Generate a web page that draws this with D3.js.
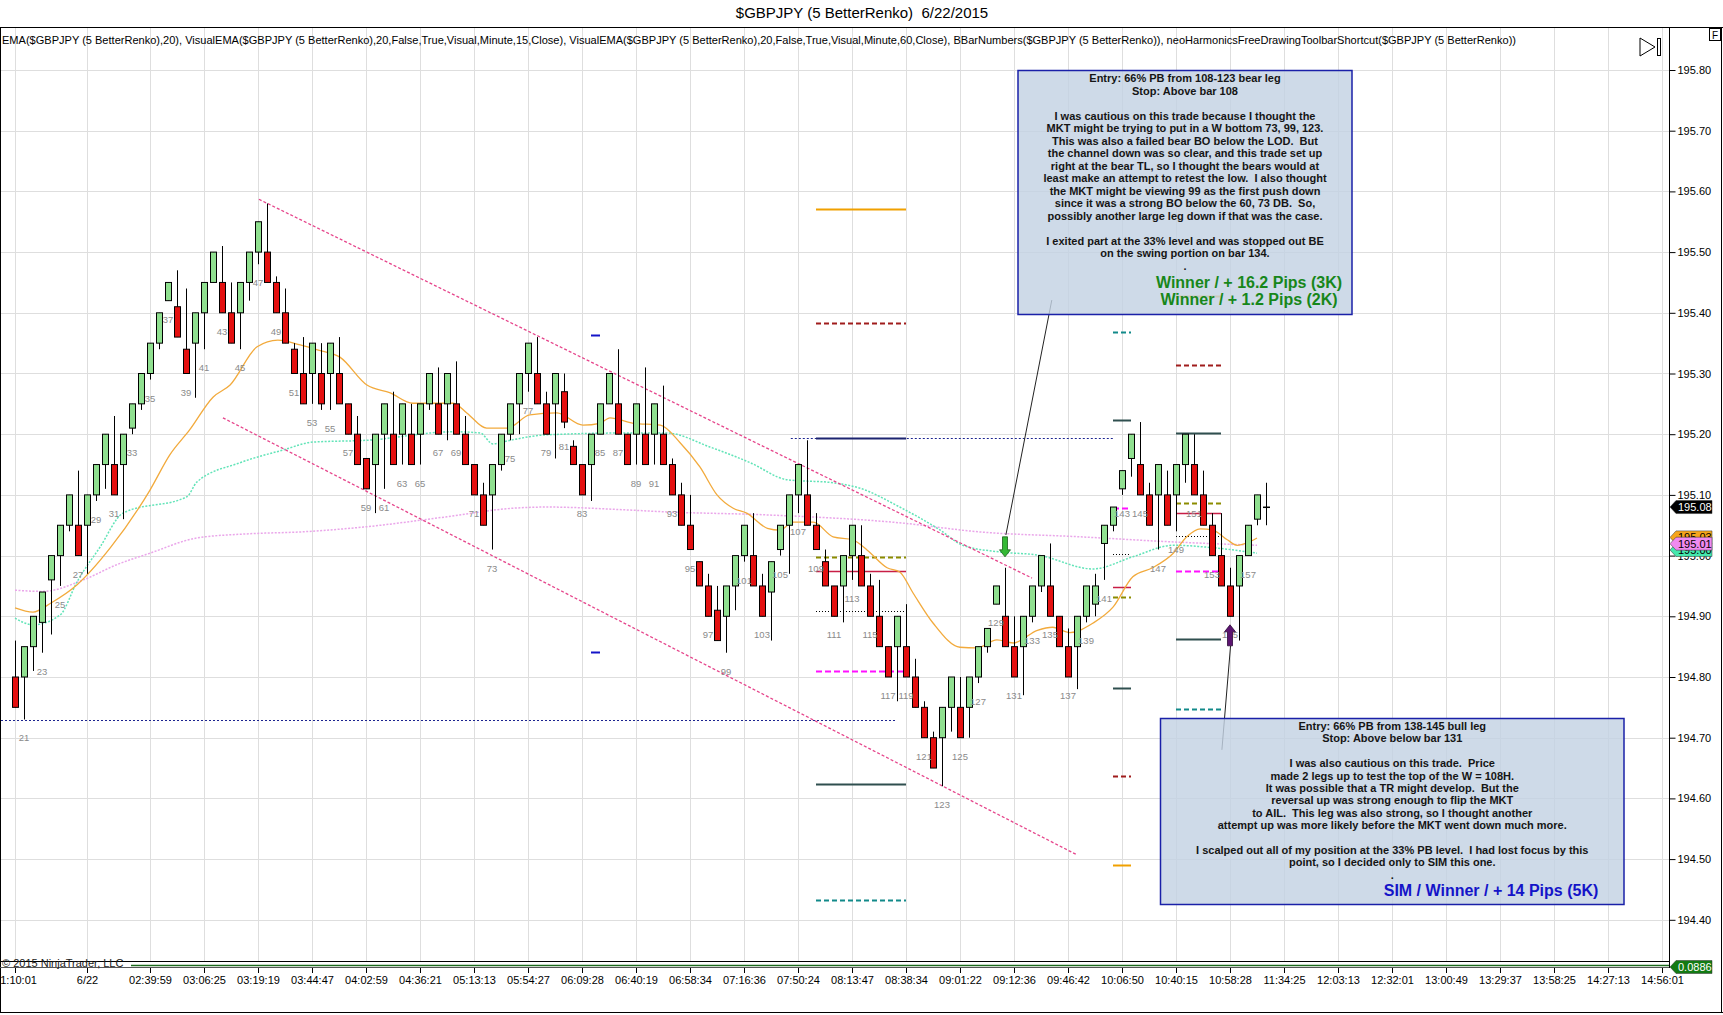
<!DOCTYPE html>
<html>
<head>
<meta charset="utf-8">
<title>$GBPJPY (5 BetterRenko) 6/22/2015</title>
<script src="https://cdn.jsdelivr.net/npm/d3@7"></script>
<style>
  body { margin: 0; background: #fff; }
  svg text { font-family: Arial, "Liberation Sans", sans-serif; }
</style>
</head>
<body>
<svg id="chart" width="1723" height="1015"></svg>
<script>
// ---- data ----
var firstBar = 20; // bars 20 .. 159
var lastNumberedBar = 157;

var opens = [
  194.80,194.80,194.85,194.89,194.96,195.00,195.05,195.05,195.05,195.10,
  195.15,195.15,195.15,195.21,195.25,195.30,195.35,195.42,195.41,195.34,
  195.35,195.40,195.45,195.45,195.40,195.40,195.45,195.50,195.50,195.45,
  195.40,195.34,195.30,195.30,195.30,195.30,195.30,195.25,195.20,195.16,
  195.15,195.20,195.20,195.20,195.20,195.20,195.25,195.25,195.25,195.25,
  195.20,195.15,195.10,195.10,195.15,195.20,195.25,195.30,195.30,195.25,
  195.25,195.27,195.18,195.15,195.15,195.20,195.25,195.25,195.20,195.20,
  195.20,195.20,195.20,195.15,195.10,195.05,194.99,194.95,194.91,194.90,
  194.95,195.00,195.00,194.95,194.94,195.01,195.05,195.10,195.10,195.05,
  194.99,194.95,194.95,195.00,195.00,194.95,194.90,194.85,194.85,194.85,
  194.80,194.75,194.70,194.70,194.75,194.75,194.75,194.80,194.85,194.92,
  194.90,194.85,194.85,194.90,194.95,194.95,194.90,194.85,194.85,194.90,
  194.92,195.02,195.05,195.11,195.16,195.15,195.10,195.10,195.10,195.10,
  195.15,195.15,195.10,195.05,195.00,194.95,194.95,195.00,195.06,195.08
];
var closes = [
  194.75,194.85,194.90,194.94,195.00,195.05,195.10,195.00,195.10,195.15,
  195.20,195.10,195.20,195.25,195.30,195.35,195.40,195.45,195.36,195.30,
  195.40,195.45,195.50,195.40,195.35,195.45,195.50,195.55,195.45,195.40,
  195.35,195.30,195.25,195.35,195.25,195.35,195.25,195.20,195.15,195.11,
  195.20,195.25,195.15,195.25,195.15,195.25,195.30,195.20,195.30,195.20,
  195.15,195.10,195.05,195.15,195.20,195.25,195.30,195.35,195.25,195.20,
  195.30,195.22,195.15,195.10,195.20,195.25,195.30,195.20,195.15,195.25,
  195.15,195.25,195.15,195.10,195.05,195.01,194.95,194.90,194.86,194.95,
  195.00,195.05,194.95,194.90,194.99,195.05,195.10,195.15,195.05,195.01,
  194.95,194.90,195.00,195.05,194.95,194.90,194.85,194.80,194.90,194.80,
  194.75,194.70,194.65,194.75,194.80,194.70,194.80,194.85,194.88,194.95,
  194.85,194.80,194.90,194.95,195.00,194.90,194.85,194.80,194.90,194.95,
  194.95,195.05,195.08,195.14,195.20,195.10,195.05,195.15,195.05,195.15,
  195.20,195.10,195.05,195.00,194.95,194.90,195.00,195.05,195.10,195.08
];
var highs = [
  194.86,194.85,194.90,194.94,195.00,195.05,195.10,195.14,195.10,195.15,
  195.20,195.23,195.20,195.25,195.30,195.35,195.40,195.45,195.47,195.44,
  195.40,195.45,195.50,195.51,195.45,195.45,195.50,195.55,195.58,195.46,
  195.44,195.35,195.36,195.35,195.35,195.35,195.36,195.25,195.23,195.16,
  195.20,195.25,195.27,195.25,195.25,195.25,195.30,195.31,195.30,195.32,
  195.23,195.15,195.12,195.15,195.20,195.25,195.30,195.35,195.36,195.27,
  195.30,195.30,195.19,195.15,195.20,195.25,195.30,195.34,195.20,195.25,
  195.31,195.25,195.28,195.16,195.12,195.10,194.99,194.97,194.95,194.95,
  195.00,195.05,195.07,194.97,194.99,195.05,195.10,195.15,195.19,195.07,
  195.01,194.95,195.00,195.05,195.05,194.97,194.96,194.85,194.90,194.92,
  194.83,194.76,194.71,194.75,194.80,194.80,194.80,194.85,194.88,194.95,
  194.98,194.90,194.90,194.95,195.00,195.02,194.90,194.88,194.90,194.95,
  194.97,195.05,195.08,195.14,195.20,195.22,195.12,195.15,195.14,195.15,
  195.20,195.20,195.14,195.07,195.07,194.98,195.00,195.05,195.10,195.12
];
var lows = [
  194.75,194.73,194.81,194.84,194.87,194.95,195.04,195.00,194.97,195.09,
  195.11,195.10,195.06,195.20,195.24,195.29,195.34,195.42,195.36,195.30,
  195.26,195.34,195.45,195.40,195.35,195.34,195.42,195.48,195.45,195.40,
  195.35,195.30,195.25,195.25,195.24,195.24,195.25,195.20,195.15,195.11,
  195.07,195.11,195.15,195.15,195.15,195.15,195.24,195.20,195.19,195.20,
  195.15,195.10,195.05,195.01,195.14,195.19,195.20,195.27,195.25,195.20,
  195.16,195.21,195.15,195.10,195.09,195.20,195.25,195.20,195.15,195.15,
  195.15,195.15,195.15,195.10,195.05,195.01,194.95,194.90,194.86,194.84,
  194.91,194.99,194.95,194.90,194.86,195.00,194.97,195.07,195.05,195.01,
  194.95,194.90,194.89,194.96,194.95,194.90,194.85,194.80,194.76,194.80,
  194.75,194.70,194.65,194.62,194.71,194.70,194.70,194.79,194.84,194.92,
  194.85,194.80,194.77,194.89,194.94,194.90,194.85,194.80,194.78,194.89,
  194.90,194.96,195.04,195.10,195.13,195.10,195.05,195.01,195.05,195.04,
  195.12,195.10,195.05,195.00,194.95,194.90,194.86,195.00,195.05,195.05
];

// EMA(20) on the renko bars (orange)
var emaBars = [20,22,24,26.9,30.6,35,37.2,39.4,42,43.9,46.9,49.2,51.7,53.6,56.1,59.1,61.7,64.2,68.7,70.2,
  72.4,74.7,77.2,80.2,83.1,85,86.1,88.7,91.7,93.9,96.1,98,99.8,101.3,103.6,105,106.4,108.7,110.9,113.1,
  114.7,116.9,118.3,119.8,122,125,126.9,129.1,130.9,133.6,135.3,137.2,139.8,142,144.2,146.4,148.7,150.2,
  151.7,153.1,154.7,155.8,156.9,158];
var emaVals = [194.914,194.907,194.922,194.952,195.013,195.108,195.166,195.207,195.261,195.281,195.344,195.355,
  195.347,195.339,195.327,195.281,195.268,195.251,195.251,195.235,195.210,195.210,195.232,195.235,195.215,
  195.218,195.227,195.218,195.215,195.186,195.146,195.100,195.078,195.070,195.045,195.042,195.055,195.055,
  195.031,195.026,195.009,194.980,194.973,194.938,194.889,194.849,194.848,194.861,194.856,194.877,194.882,
  194.873,194.889,194.915,194.965,194.980,195.004,195.031,195.044,195.042,195.026,195.017,195.021,195.029];

// VisualEMA 15 minute (mint, dotted)
var ema15Bars = [20,22,25,26.9,29.4,32,39.1,40.2,45,49.8,53.1,59.1,68.7,71.7,73.1,74.7,79.1,88.3,92.4,97.2,
  101.7,105.8,110.9,113.9,118.3,122.8,125.3,129.4,133.6,139.8,144.2,148.7,153.1,158];
var ema15Vals = [194.897,194.886,194.902,194.957,195.013,195.070,195.097,195.121,195.153,195.174,195.187,195.190,
  195.204,195.202,195.184,195.189,195.199,195.202,195.202,195.179,195.153,195.125,195.120,195.111,195.080,
  195.042,195.017,195.006,195.001,194.978,194.998,195.017,195.013,195.004];

// VisualEMA 60 minute (violet, dotted)
var ema60Bars = [20,23.1,27.6,31.3,35,40.2,46.1,51.7,58.7,68,75.3,79.1,88.3,92.4,103.6,118.3,127.2,138.3,149.4,158];
var ema60Vals = [194.943,194.941,194.960,194.985,195.004,195.029,195.036,195.039,195.047,195.064,195.078,195.080,
  195.075,195.072,195.067,195.054,195.039,195.031,195.022,195.017];

// x axis
var tickBars = [20,28,35,41,47,53,59,65,71,77,83,89,95,101,107,113,119,125,131,137,143,149,155,161,167,173,179,185,191,197,203];
var tickLabels = ["01:10:01","6/22","02:39:59","03:06:25","03:19:19","03:44:47","04:02:59","04:36:21","05:13:13",
  "05:54:27","06:09:28","06:40:19","06:58:34","07:16:36","07:50:24","08:13:47","08:38:34","09:01:22","09:12:36",
  "09:46:42","10:06:50","10:40:15","10:58:28","11:34:25","12:03:13","12:32:01","13:00:49","13:29:37","13:58:25",
  "14:27:13","14:56:01"];
var priceTicks = [194.40,194.50,194.60,194.70,194.80,194.90,195.00,195.10,195.20,195.30,195.40,195.50,195.60,195.70,195.80];

// drawn objects: channel lines
var trendFrom = [[47.1, 195.587], [43.1, 195.227]];
var trendTo   = [[133, 194.963], [138, 194.507]];

// trade level segments
var levelFrom  = [106.2,109,109,109,109,109,109,109,109,109,18,142,142,142,142,142,142,142,142,142,149,149,149,149,149,149,149,149,149,84,84];
var levelTo    = [142,119,119,119,119,119,119,119,119,119,118,144,144,144,144,144,144,144,144,144,154,154,154,154,154,154,154,154,154,85,85];
var levelPrice = [195.193,195.571,195.383,195.193,194.998,194.975,194.909,194.810,194.623,194.433,194.729,
  195.368,195.224,195.078,195.003,194.949,194.932,194.782,194.637,194.490,
  195.428,195.314,195.202,195.087,195.071,195.032,194.974,194.863,194.748,195.363,194.842];
var levelStyle = ["navydot","orange","darkred","navy","olive","crimson","dotted","magenta","slate","teal","navydot",
  "teal","slate","magenta","dotted","crimson","olive","slate","darkred","orange",
  "orange","darkred","slate","olive","crimson","dotted","magenta","slate","teal","blue","blue"];

// entry arrows and callout lines
var signalBars = [130, 155];
var signalTips = [194.998, 194.886];
var signalDirs = ["down", "up"];
var calloutFrom = [[135.2, 195.421], [154.1, 194.680]];
var calloutTo   = [[130.1, 195.034], [155.06, 194.851]];

var box1Lines = ["Entry: 66% PB from 108-123 bear leg", "Stop: Above bar 108", "",
  "I was cautious on this trade because I thought the",
  "MKT might be trying to put in a W bottom 73, 99, 123.",
  "This was also a failed bear BO below the LOD.  But",
  "the channel down was so clear, and this trade set up",
  "right at the bear TL, so I thought the bears would at",
  "least make an attempt to retest the low.  I also thought",
  "the MKT might be viewing 99 as the first push down",
  "since it was a strong BO below the 60, 73 DB.  So,",
  "possibly another large leg down if that was the case.", "",
  "I exited part at the 33% level and was stopped out BE",
  "on the swing portion on bar 134.", "."];
var box1Result = ["Winner / + 16.2 Pips (3K)", "Winner / + 1.2 Pips (2K)"];
var box2Lines = ["Entry: 66% PB from 138-145 bull leg", "Stop: Above below bar 131", "",
  "I was also cautious on this trade.  Price",
  "made 2 legs up to test the top of the W = 108H.",
  "It was possible that a TR might develop.  But the",
  "reversal up was strong enough to flip the MKT",
  "to AIL.  This leg was also strong, so I thought another",
  "attempt up was more likely before the MKT went down much more.", "",
  "I scalped out all of my position at the 33% PB level.  I had lost focus by this",
  "point, so I decided only to SIM this one.", "."];
var box2Result = ["SIM / Winner / + 14 Pips (5K)"];

var lastPrice = 195.08;
var emaTags = [["195.03", "#f5a51c"], ["195.00", "#44e8ac"], ["195.01", "#f08af0"]];
var lowerPanelValue = "0.0886";

// ---- drawing ----
var W = 1723, H = 1015;
var plotTop = 27, plotBottom = 962, plotRight = 1669, axisY = 968;
var fontFam = "Arial, 'Liberation Sans', sans-serif";

var svg = d3.select("#chart");
svg.append("rect").attr("width", W).attr("height", H).attr("fill", "#fff");

var x = d3.scaleLinear().domain([20, 203]).range([15, 1662]);
var y = d3.scaleLinear().domain([194.40, 195.80]).range([919.8, 70]);

var bars = opens.map(function (o, i) {
  return { bar: firstBar + i, o: o, c: closes[i], h: highs[i], l: lows[i] };
});

// title
svg.append("text").attr("x", 862).attr("y", 18).attr("text-anchor", "middle")
  .attr("font-size", 15).style("white-space", "pre")
  .text("$GBPJPY (5 BetterRenko)  6/22/2015");

var defs = svg.append("defs");
defs.append("clipPath").attr("id", "plotClip").append("rect")
  .attr("x", 1).attr("y", plotTop + 1).attr("width", plotRight - 1).attr("height", plotBottom - plotTop - 1);

var plot = svg.append("g").attr("clip-path", "url(#plotClip)");

// grid
plot.selectAll(".hgrid").data(priceTicks).enter().append("line")
  .attr("x1", 1).attr("x2", plotRight)
  .attr("y1", function (d) { return Math.round(y(d)) + 0.5; })
  .attr("y2", function (d) { return Math.round(y(d)) + 0.5; })
  .attr("stroke", "#dedede");
plot.selectAll(".vgrid").data(tickBars).enter().append("line")
  .attr("x1", function (d) { return Math.round(x(d)) + 0.5; })
  .attr("x2", function (d) { return Math.round(x(d)) + 0.5; })
  .attr("y1", plotTop).attr("y2", plotBottom)
  .attr("stroke", "#dedede");

// indicator caption
svg.append("text").attr("x", 2).attr("y", 44).attr("font-size", 11)
  .attr("textLength", 1514).attr("lengthAdjust", "spacingAndGlyphs")
  .text("EMA($GBPJPY (5 BetterRenko),20), VisualEMA($GBPJPY (5 BetterRenko),20,False,True,Visual,Minute,15,Close), VisualEMA($GBPJPY (5 BetterRenko),20,False,True,Visual,Minute,60,Close), BBarNumbers($GBPJPY (5 BetterRenko)), neoHarmonicsFreeDrawingToolbarShortcut($GBPJPY (5 BetterRenko))");

// trade levels
var levelStyles = {
  orange:  { c: "#f0a000", w: 2,   d: null },
  darkred: { c: "#a01c1c", w: 2,   d: "5,3" },
  navy:    { c: "#1c2470", w: 2,   d: null },
  navydot: { c: "#1c2490", w: 1,   d: "2,2" },
  olive:   { c: "#8c8c00", w: 2,   d: "5,3" },
  crimson: { c: "#c81e46", w: 1.5, d: null },
  dotted:  { c: "#000000", w: 1,   d: "1,2" },
  magenta: { c: "#ff10ff", w: 2,   d: "6,3" },
  slate:   { c: "#2f4f4f", w: 2,   d: null },
  teal:    { c: "#128a8a", w: 2,   d: "5,3" },
  blue:    { c: "#1515c8", w: 2,   d: null }
};
plot.selectAll(".level").data(levelPrice).enter().append("line")
  .attr("x1", function (d, i) { return x(levelFrom[i]); })
  .attr("x2", function (d, i) { return x(levelTo[i]); })
  .attr("y1", function (d) { return Math.round(y(d)) + 0.5; })
  .attr("y2", function (d) { return Math.round(y(d)) + 0.5; })
  .attr("stroke", function (d, i) { return levelStyles[levelStyle[i]].c; })
  .attr("stroke-width", function (d, i) { return levelStyles[levelStyle[i]].w; })
  .attr("stroke-dasharray", function (d, i) { return levelStyles[levelStyle[i]].d; });

// moving averages
var line = d3.line().x(function (d) { return x(d[0]); }).y(function (d) { return y(d[1]); })
  .curve(d3.curveMonotoneX);
plot.append("path").datum(d3.zip(ema60Bars, ema60Vals)).attr("d", line)
  .attr("fill", "none").attr("stroke", "#eaa6ea").attr("stroke-width", 1.5).attr("stroke-dasharray", "2,1.5");
plot.append("path").datum(d3.zip(ema15Bars, ema15Vals)).attr("d", line)
  .attr("fill", "none").attr("stroke", "#62e4b8").attr("stroke-width", 1.5).attr("stroke-dasharray", "2,1.5");
plot.append("path").datum(d3.zip(emaBars, emaVals)).attr("d", line)
  .attr("fill", "none").attr("stroke", "#f2aa3c").attr("stroke-width", 1.3);

// channel lines
plot.selectAll(".trend").data(trendFrom).enter().append("line")
  .attr("x1", function (d) { return x(d[0]); }).attr("y1", function (d) { return y(d[1]); })
  .attr("x2", function (d, i) { return x(trendTo[i][0]); }).attr("y2", function (d, i) { return y(trendTo[i][1]); })
  .attr("stroke", "#e6468c").attr("stroke-width", 1.3).attr("stroke-dasharray", "3,2");

// candles
var candle = plot.selectAll(".candle").data(bars).enter().append("g");
candle.append("line")
  .attr("x1", function (d) { return Math.round(x(d.bar)) + 0.5; })
  .attr("x2", function (d) { return Math.round(x(d.bar)) + 0.5; })
  .attr("y1", function (d) { return y(d.h); })
  .attr("y2", function (d) { return y(d.l); })
  .attr("stroke", "#000");
candle.append("rect")
  .attr("x", function (d) { return Math.round(x(d.bar)) - 2.5; })
  .attr("width", 6)
  .attr("y", function (d) { return y(Math.max(d.o, d.c)); })
  .attr("height", function (d) { return Math.max(0.5, Math.abs(y(d.o) - y(d.c))); })
  .attr("fill", function (d) { return d.c > d.o ? "#90e090" : (d.c < d.o ? "#e41010" : "#000"); })
  .attr("stroke", "#000").attr("stroke-width", 1);

// bar numbers (odd bars, the still-forming last bar is not numbered)
plot.selectAll(".barnum").data(bars.filter(function (d) { return d.bar % 2 === 1 && d.bar <= lastNumberedBar; }))
  .enter().append("text")
  .attr("x", function (d) { return x(d.bar); })
  .attr("y", function (d) { return y(d.l) + 22; })
  .attr("text-anchor", "middle").attr("font-size", 9.5).attr("fill", "#8a8a8a")
  .text(function (d) { return d.bar; });

// entry arrows
signalBars.forEach(function (b, i) {
  var cx = x(b), ty = y(signalTips[i]);
  var p;
  if (signalDirs[i] === "down") {
    p = "M" + (cx - 2.5) + "," + (ty - 20) + "H" + (cx + 2.5) + "V" + (ty - 7) + "H" + (cx + 5.5) +
      "L" + cx + "," + ty + "L" + (cx - 5.5) + "," + (ty - 7) + "H" + (cx - 2.5) + "Z";
    plot.append("path").attr("d", p).attr("fill", "#34b834").attr("stroke", "#1b5e1b").attr("stroke-width", 0.8);
  } else {
    p = "M" + (cx - 2.5) + "," + (ty + 21) + "H" + (cx + 2.5) + "V" + (ty + 7) + "H" + (cx + 5.5) +
      "L" + cx + "," + ty + "L" + (cx - 5.5) + "," + (ty + 7) + "H" + (cx - 2.5) + "Z";
    plot.append("path").attr("d", p).attr("fill", "#5c1470").attr("stroke", "#2c0838").attr("stroke-width", 0.8);
  }
});

// callout lines
plot.selectAll(".callout").data(calloutFrom).enter().append("line")
  .attr("x1", function (d) { return x(d[0]); }).attr("y1", function (d) { return y(d[1]); })
  .attr("x2", function (d, i) { return x(calloutTo[i][0]); }).attr("y2", function (d, i) { return y(calloutTo[i][1]); })
  .attr("stroke", "#222").attr("stroke-width", 1);

// text boxes
function textBox(bx, by, bw, bh, lines, firstY, step, results, resX, resY, resColor) {
  var g = svg.append("g");
  g.append("rect").attr("x", bx).attr("y", by).attr("width", bw).attr("height", bh)
    .attr("fill", "#c3d2e3").attr("fill-opacity", 0.82)
    .attr("stroke", "#1a20a8").attr("stroke-width", 1.5);
  g.selectAll(".ln").data(lines).enter().append("text")
    .attr("x", bx + bw / 2).attr("y", function (d, i) { return firstY + i * step; })
    .attr("text-anchor", "middle").attr("font-size", 11).attr("font-weight", "bold")
    .attr("fill", "#151515").style("white-space", "pre")
    .text(function (d) { return d; });
  g.selectAll(".res").data(results).enter().append("text")
    .attr("x", resX).attr("y", function (d, i) { return resY[i]; })
    .attr("text-anchor", "middle").attr("font-size", 16).attr("font-weight", "bold")
    .attr("fill", resColor).text(function (d) { return d; });
}
textBox(1018, 70.5, 334, 244, box1Lines, 82, 12.5, box1Result, 1249, [288, 305], "#17871a");
textBox(1160.5, 718.5, 463.5, 186, box2Lines, 730, 12.4, box2Result, 1491, [896], "#1414c8");

// frame + axes lines
svg.append("line").attr("x1", 0).attr("x2", W).attr("y1", plotTop + 0.5).attr("y2", plotTop + 0.5).attr("stroke", "#000");
svg.append("line").attr("x1", 0.5).attr("x2", 0.5).attr("y1", plotTop).attr("y2", 1013).attr("stroke", "#000");
svg.append("line").attr("x1", 0).attr("x2", plotRight).attr("y1", plotBottom - 0.5).attr("y2", plotBottom - 0.5).attr("stroke", "#000");
svg.append("line").attr("x1", 0).attr("x2", plotRight).attr("y1", axisY - 0.5).attr("y2", axisY - 0.5).attr("stroke", "#555");
svg.append("line").attr("x1", plotRight + 0.5).attr("x2", plotRight + 0.5).attr("y1", plotTop).attr("y2", axisY).attr("stroke", "#000");
svg.append("line").attr("x1", W - 1.5).attr("x2", W - 1.5).attr("y1", plotTop).attr("y2", 1013).attr("stroke", "#000");
svg.append("line").attr("x1", 0).attr("x2", W).attr("y1", 1012.5).attr("y2", 1012.5).attr("stroke", "#000");

// lower indicator panel line
svg.append("line").attr("x1", 131).attr("x2", plotRight).attr("y1", 965.5).attr("y2", 965.5)
  .attr("stroke", "#1d6b1d").attr("stroke-width", 1.5);
svg.append("text").attr("x", 2).attr("y", 967).attr("font-size", 11).attr("fill", "#222")
  .text("\u00a9 2015 NinjaTrader, LLC");

// y axis
var yAxis = d3.axisRight(y).tickValues(priceTicks).tickFormat(d3.format(".2f")).tickSize(6).tickPadding(2);
var yg = svg.append("g").attr("transform", "translate(" + (plotRight + 0.5) + ",0)").call(yAxis);
yg.select(".domain").remove();
yg.attr("font-size", 11).attr("font-family", fontFam);
yg.selectAll("text").attr("fill", "#000");

// x axis
var xAxis = d3.axisBottom(x).tickValues(tickBars)
  .tickFormat(function (d, i) { return tickLabels[i]; }).tickSize(5).tickPadding(3);
var xg = svg.append("g").attr("transform", "translate(0," + axisY + ")").call(xAxis);
xg.select(".domain").remove();
xg.attr("font-size", 11).attr("font-family", fontFam);
xg.selectAll("text").attr("fill", "#000");

// price tags on the axis
function tag(cy, fill, textFill, label) {
  svg.append("path")
    .attr("d", "M" + (plotRight + 1) + "," + cy + "L" + (plotRight + 7) + "," + (cy - 6.5) + "H1712V" + (cy + 6.5) + "H" + (plotRight + 7) + "Z")
    .attr("fill", fill).attr("stroke", "#333").attr("stroke-width", 0.5);
  svg.append("text").attr("x", 1678).attr("y", cy + 4).attr("font-size", 11).attr("fill", textFill).text(label);
}
var tagBase = y(+emaTags[0][0]);
tag(tagBase, emaTags[0][1], "#000", emaTags[0][0]);
tag(tagBase + 12.6, emaTags[1][1], "#000", emaTags[1][0]);
tag(tagBase + 6.3, emaTags[2][1], "#000", emaTags[2][0]);
tag(y(lastPrice), "#000", "#fff", d3.format(".2f")(lastPrice));
tag(967, "#137a13", "#fff", lowerPanelValue);

// toolbar glyphs
svg.append("path").attr("d", "M1640,38 L1655,47 L1640,56 Z").attr("fill", "none").attr("stroke", "#000");
svg.append("rect").attr("x", 1657.5).attr("y", 38.5).attr("width", 3).attr("height", 17).attr("fill", "none").attr("stroke", "#000");
svg.append("rect").attr("x", 1709.5).attr("y", 28.5).attr("width", 11).attr("height", 12).attr("fill", "#fff").attr("stroke", "#000");
svg.append("text").attr("x", 1715).attr("y", 38.5).attr("text-anchor", "middle").attr("font-size", 10).text("F");
</script>
</body>
</html>
